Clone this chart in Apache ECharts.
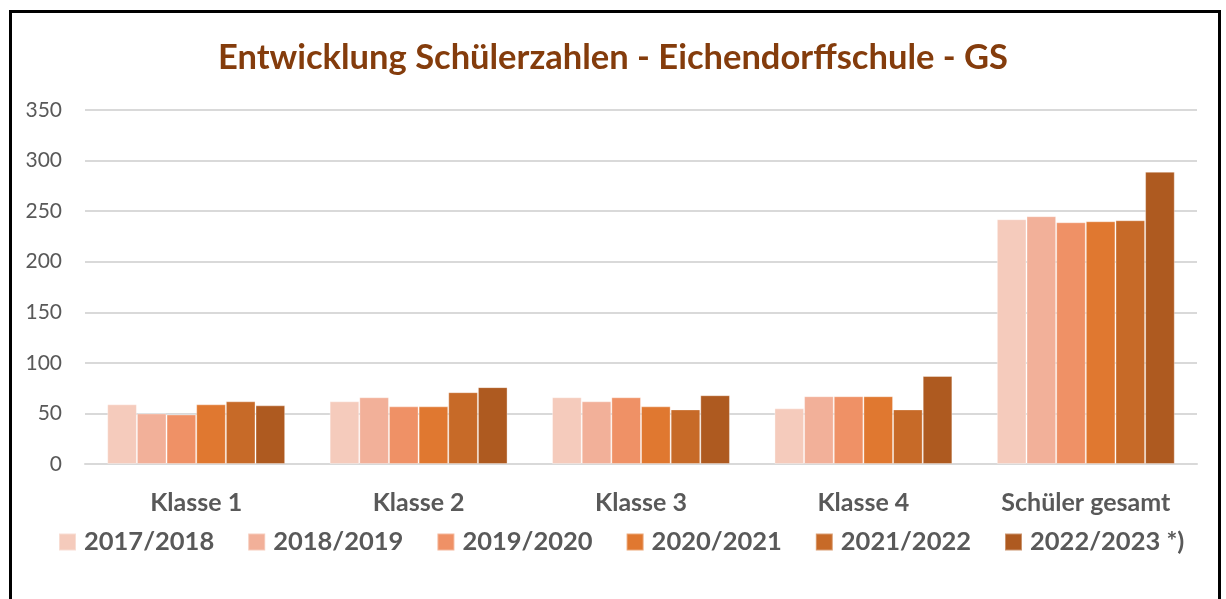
<!DOCTYPE html>
<html>
<head>
<meta charset="utf-8">
<script src="https://cdn.jsdelivr.net/npm/echarts@6/dist/echarts.min.js"></script>
<style>
    html, body { margin: 0; padding: 0; background: #fff; }
    #frame { position: absolute; left: 9px; top: 10px; width: 1212px; height: 620px; border: 3px solid #000; box-sizing: border-box; }
    #chart { position: absolute; left: 0; top: 0; width: 1226px; height: 599px; }
</style>
</head>
<body>
<div id="frame"></div>
<div id="chart"></div>
<script>
    // Schülerzahlen je Klassenstufe und Schuljahr
    var categories = ['Klasse 1', 'Klasse 2', 'Klasse 3', 'Klasse 4', 'Schüler gesamt'];
    var years = ['2017/2018', '2018/2019', '2019/2020', '2020/2021', '2021/2022', '2022/2023 *)'];
    var y2017 = [59, 62, 66, 55, 242];
    var y2018 = [50, 66, 62, 67, 245];
    var y2019 = [49, 57, 66, 67, 239];
    var y2020 = [59, 57, 57, 67, 240];
    var y2021 = [62, 71, 54, 54, 241];
    var y2022 = [58, 76, 68, 87, 289];
    var yTicks = [0, 50, 100, 150, 200, 250, 300, 350];

    var colors = ['#F5CBBC', '#F2B099', '#EF9166', '#E07830', '#C76A28', '#AE5A20'];
    var values = [y2017, y2018, y2019, y2020, y2021, y2022];
    var font = 'Lato, "Open Sans", sans-serif';

    var chart = echarts.init(document.getElementById('chart'));

    var series = years.map(function (name, i) {
        return {
            name: name,
            type: 'bar',
            data: values[i],
            barGap: '0%',
            barCategoryGap: '20%',
            itemStyle: { color: colors[i], borderColor: 'rgba(255,255,255,0.35)', borderWidth: 1 }
        };
    });

    chart.setOption({
        animation: false,
        color: colors,
        title: {
            text: 'Entwicklung Schülerzahlen - Eichendorffschule - GS',
            left: 'center',
            top: 35,
            textStyle: { fontFamily: font, fontWeight: 'bold', fontSize: 34.5, color: '#843C0C' }
        },
        grid: { left: 85, right: 29, top: 110, bottom: 135 },
        legend: {
            data: years,
            left: 53,
            top: 524,
            itemWidth: 17,
            itemHeight: 17,
            itemGap: 33,
            icon: 'rect',
            textStyle: { fontFamily: font, fontWeight: 'bold', fontSize: 25.5, color: '#595959', padding: [0, 0, 0, 3] }
        },
        xAxis: {
            type: 'category',
            data: categories,
            axisLine: { lineStyle: { color: '#D9D9D9', width: 2 } },
            axisTick: { show: false },
            axisLabel: { fontFamily: font, fontWeight: 'bold', fontSize: 25, color: '#595959', margin: 26 }
        },
        yAxis: {
            type: 'value',
            min: yTicks[0],
            max: yTicks[yTicks.length - 1],
            interval: 50,
            axisLine: { show: false },
            axisTick: { show: false },
            splitLine: { lineStyle: { color: '#D9D9D9', width: 2 } },
            axisLabel: { fontFamily: font, fontSize: 21, color: '#595959', margin: 23 }
        },
        series: series
    });
</script>
</body>
</html>
